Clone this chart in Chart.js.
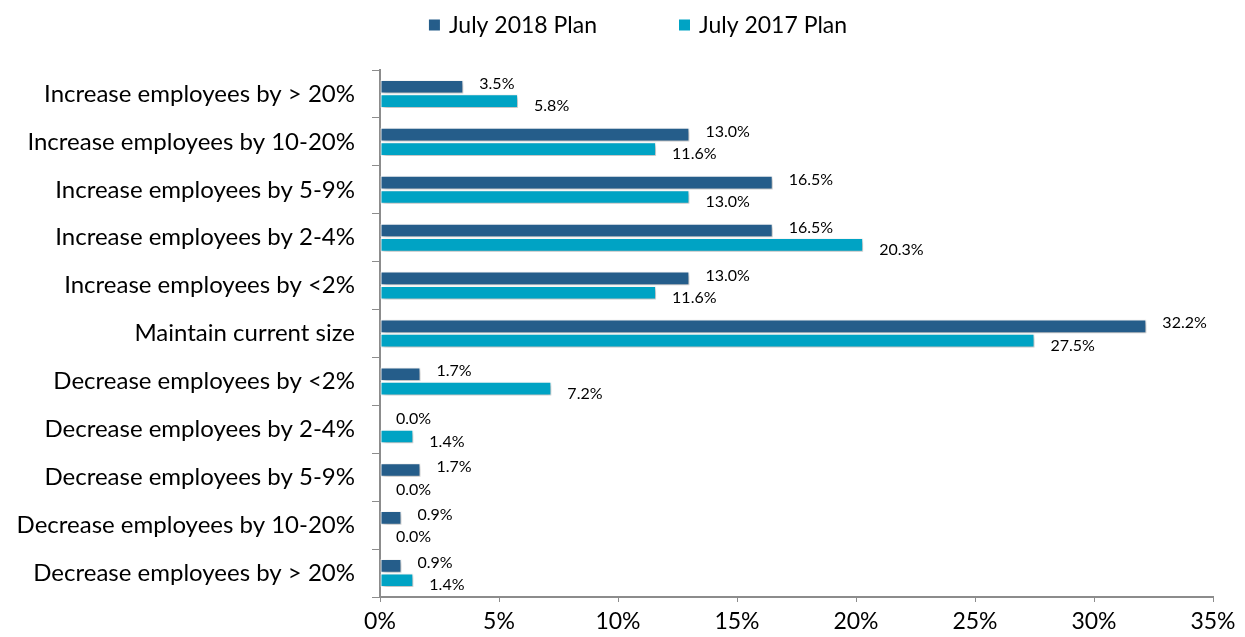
<!DOCTYPE html>
<html>
<head>
<meta charset="utf-8">
<script src="https://cdn.jsdelivr.net/npm/chart.js@4.4.1/dist/chart.umd.min.js"></script>
<style>
  html, body { margin: 0; padding: 0; background: #fff; }
  #wrap { width: 1245px; height: 637px; }
</style>
</head>
<body>
<div id="wrap"><canvas id="plan"></canvas></div>
<script>
const categories = [
    'Increase employees by > 20%',
    'Increase employees by 10-20%',
    'Increase employees by 5-9%',
    'Increase employees by 2-4%',
    'Increase employees by <2%',
    'Maintain current size',
    'Decrease employees by <2%',
    'Decrease employees by 2-4%',
    'Decrease employees by 5-9%',
    'Decrease employees by 10-20%',
    'Decrease employees by > 20%'
];
const plan2018 = [3.5, 13.0, 16.5, 16.5, 13.0, 32.2, 1.7, 0.0, 1.7, 0.9, 0.9];
const plan2017 = [5.8, 11.6, 13.0, 20.3, 11.6, 27.5, 7.2, 1.4, 0.0, 0.0, 1.4];
const xTicks = [0, 5, 10, 15, 20, 25, 30, 35];

const FONT = 'Lato, "Open Sans", sans-serif';
const DARK = '#255D8A';
const TEAL = '#00A3C4';
const AXIS = '#8C8C8C';

// soft drop shadow under the bars
const barShadow = {
    id: 'barShadow',
    beforeDatasetsDraw(chart) {
        const ctx = chart.ctx;
        ctx.save();
        ctx.shadowColor = 'rgba(0,0,0,0.30)';
        ctx.shadowBlur = 4;
        ctx.shadowOffsetX = 2;
        ctx.shadowOffsetY = 2;
    },
    afterDatasetsDraw(chart) {
        chart.ctx.restore();
    }
};

// value labels to the right of each bar
const valueLabels = {
    id: 'valueLabels',
    afterDatasetsDraw(chart) {
        const ctx = chart.ctx;
        ctx.save();
        ctx.font = '16px ' + FONT;
        ctx.fillStyle = '#000';
        ctx.textAlign = 'left';
        ctx.textBaseline = 'middle';
        chart.data.datasets.forEach((ds, di) => {
            const meta = chart.getDatasetMeta(di);
            meta.data.forEach((bar, i) => {
                const dy = di === 0 ? -3 : 5;
                ctx.fillText(ds.data[i].toFixed(1) + '%', bar.x + 16, bar.y + dy);
            });
        });
        ctx.restore();
    }
};

// legend row across the top
const topLegend = {
    id: 'topLegend',
    afterDraw(chart) {
        const ctx = chart.ctx;
        ctx.save();
        ctx.font = '23px ' + FONT;
        ctx.textBaseline = 'middle';
        ctx.textAlign = 'left';
        const y = 25;
        const items = chart.data.datasets.map(ds => ({ text: ds.label, color: ds.backgroundColor }));
        const box = 11, gapBox = 9, gapItem = 82;
        let total = 0;
        items.forEach((it, i) => {
            it.w = box + gapBox + ctx.measureText(it.text).width;
            total += it.w + (i ? gapItem : 0);
        });
        let x = 638 - total / 2;
        items.forEach(it => {
            ctx.fillStyle = it.color;
            ctx.fillRect(x, y - box / 2, box, box);
            ctx.fillStyle = '#000';
            ctx.fillText(it.text, x + box + gapBox, y + 1);
            x += it.w + gapItem;
        });
        ctx.restore();
    }
};

new Chart(document.getElementById('plan'), {
    type: 'bar',
    data: {
        labels: categories,
        datasets: [
            {
                label: 'July 2018 Plan',
                data: plan2018,
                backgroundColor: DARK,
                borderColor: '#fff',
                borderWidth: 1,
                borderSkipped: false,
                barPercentage: 0.95,
                categoryPercentage: 0.6
            },
            {
                label: 'July 2017 Plan',
                data: plan2017,
                backgroundColor: TEAL,
                borderColor: '#fff',
                borderWidth: 1,
                borderSkipped: false,
                barPercentage: 0.95,
                categoryPercentage: 0.6
            }
        ]
    },
    options: {
        indexAxis: 'y',
        responsive: true,
        maintainAspectRatio: false,
        animation: false,
        layout: { padding: { top: 70, right: 32, left: 0, bottom: 0 } },
        plugins: {
            legend: { display: false },
            tooltip: { enabled: false }
        },
        scales: {
            x: {
                min: 0,
                max: 35,
                afterBuildTicks(scale) {
                    scale.ticks = xTicks.map(v => ({ value: v }));
                },
                afterFit(scale) { scale.height = 40; },
                grid: {
                    drawOnChartArea: false,
                    drawTicks: true,
                    tickLength: 5,
                    color: AXIS
                },
                border: { color: AXIS, width: 2 },
                ticks: {
                    color: '#000',
                    font: { family: FONT, size: 23 },
                    padding: 6,
                    maxRotation: 0,
                    autoSkip: false,
                    callback: v => v + '%'
                }
            },
            y: {
                afterFit(scale) { scale.width = 380; },
                grid: {
                    drawOnChartArea: false,
                    drawTicks: true,
                    tickLength: 8,
                    offset: true,
                    color: AXIS
                },
                border: { color: AXIS, width: 2 },
                ticks: {
                    color: '#000',
                    font: { family: FONT, size: 24 },
                    padding: 17,
                    autoSkip: false
                }
            }
        }
    },
    plugins: [barShadow, valueLabels, topLegend]
});
</script>
</body>
</html>
